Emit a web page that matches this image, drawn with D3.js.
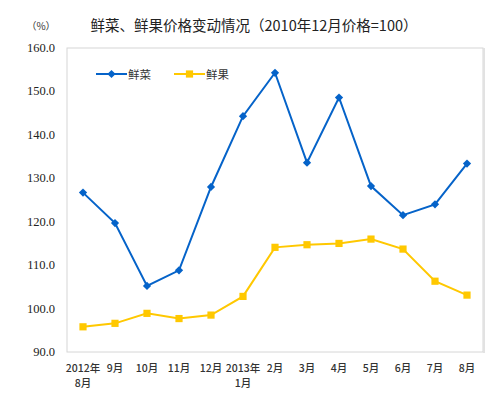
<!DOCTYPE html>
<html>
<head>
<meta charset="utf-8">
<script src="https://cdn.jsdelivr.net/npm/d3@7"></script>
<style>
  body { margin: 0; background: #fff; }
  text { font-family: "Noto Sans CJK SC", sans-serif; }
</style>
</head>
<body>
<div id="chart"></div>
<script>
// categories (x axis), first line / second line
var months = ["2012年", "9月", "10月", "11月", "12月", "2013年", "2月", "3月", "4月", "5月", "6月", "7月", "8月"];
var months2 = ["8月", "", "", "", "", "1月", "", "", "", "", "", "", ""];
// series
var vegetables = [126.7, 119.7, 105.2, 108.8, 128.0, 144.3, 154.3, 133.6, 148.6, 128.2, 121.5, 124.0, 133.4];
var fruits = [95.8, 96.6, 98.9, 97.7, 98.5, 102.8, 114.1, 114.7, 115.0, 116.0, 113.7, 106.3, 103.1];
var yTicks = [90, 100, 110, 120, 130, 140, 150, 160];

var width = 500, height = 397;
var plotL = 67, plotR = 483, plotT = 48, plotB = 352;
var blue = "#0563c9", yellow = "#ffc800";

var svg = d3.select("#chart").append("svg")
  .attr("width", width)
  .attr("height", height);

var x = d3.scalePoint().domain(d3.range(months.length)).range([plotL, plotR]).padding(0.5);
var y = d3.scaleLinear().domain([90, 160]).range([plotB, plotT]);

//title
svg.append("text")
  .attr("x", 254).attr("y", 31)
  .attr("text-anchor", "middle")
  .style("font-size", "14.5px")
  .attr("fill", "#222")
  .text("鲜菜、鲜果价格变动情况（2010年12月价格=100）");

svg.append("text")
  .attr("x", 41).attr("y", 30)
  .attr("text-anchor", "middle")
  .style("font-size", "10px")
  .attr("fill", "#333")
  .text("（%）");

//plot frame
svg.append("rect")
  .attr("x", plotL).attr("y", plotT)
  .attr("width", plotR - plotL).attr("height", plotB - plotT)
  .attr("fill", "none")
  .attr("stroke", "#d6d6d6");
svg.append("line")
  .attr("x1", plotR + 1).attr("x2", plotR + 1)
  .attr("y1", plotT).attr("y2", plotB + 1)
  .attr("stroke", "#e2e2e2").attr("stroke-width", 2);

//y axis labels
svg.append("g").selectAll("text")
  .data(yTicks).join("text")
  .attr("x", 55)
  .attr("y", d => y(d) + 4)
  .attr("text-anchor", "end")
  .style("font-family", "'Liberation Serif', serif")
  .style("font-size", "12.5px")
  .attr("fill", "#222")
  .text(d => d.toFixed(1));

//x axis labels
svg.append("g").selectAll("text")
  .data(months).join("text")
  .attr("x", (d, i) => x(i))
  .attr("y", 372)
  .attr("text-anchor", "middle")
  .style("font-size", "10.5px")
  .style("font-weight", "500")
  .attr("fill", "#333")
  .text(d => d);
svg.append("g").selectAll("text")
  .data(months2).join("text")
  .attr("x", (d, i) => x(i))
  .attr("y", 387)
  .attr("text-anchor", "middle")
  .style("font-size", "10.5px")
  .style("font-weight", "500")
  .attr("fill", "#333")
  .text(d => d);

var line = d3.line().x((d, i) => x(i)).y(d => y(d));

// marker: square, or square turned 45deg for the diamond
function marker(sel, kind) {
  var s = kind == "diamond" ? 34 : 52;
  return sel.attr("d", d3.symbol().type(d3.symbolSquare).size(s))
    .attr("transform", function () {
      return d3.select(this).attr("transform") + (kind == "diamond" ? " rotate(45)" : "");
    });
}

function drawSeries(data, color, kind) {
  svg.append("path")
    .datum(data)
    .attr("fill", "none")
    .attr("stroke", color)
    .attr("stroke-width", 2)
    .attr("d", line);
  svg.append("g").selectAll("path")
    .data(data).join("path")
    .attr("transform", (d, i) => "translate(" + x(i) + "," + y(d) + ")")
    .attr("fill", color)
    .call(marker, kind);
}

drawSeries(fruits, yellow, "square");
drawSeries(vegetables, blue, "diamond");

//legend
function legendItem(x0, color, kind, label) {
  svg.append("line")
    .attr("x1", x0).attr("x2", x0 + 31)
    .attr("y1", 74).attr("y2", 74)
    .attr("stroke", color).attr("stroke-width", 2);
  svg.append("path")
    .attr("transform", "translate(" + (x0 + 15.5) + ",74)")
    .attr("fill", color)
    .call(marker, kind);
  svg.append("text")
    .attr("x", x0 + 32).attr("y", 78.5)
    .style("font-size", "11.5px")
    .attr("fill", "#333")
    .text(label);
}
legendItem(96, blue, "diamond", "鲜菜");
legendItem(174, yellow, "square", "鲜果");
</script>
</body>
</html>
